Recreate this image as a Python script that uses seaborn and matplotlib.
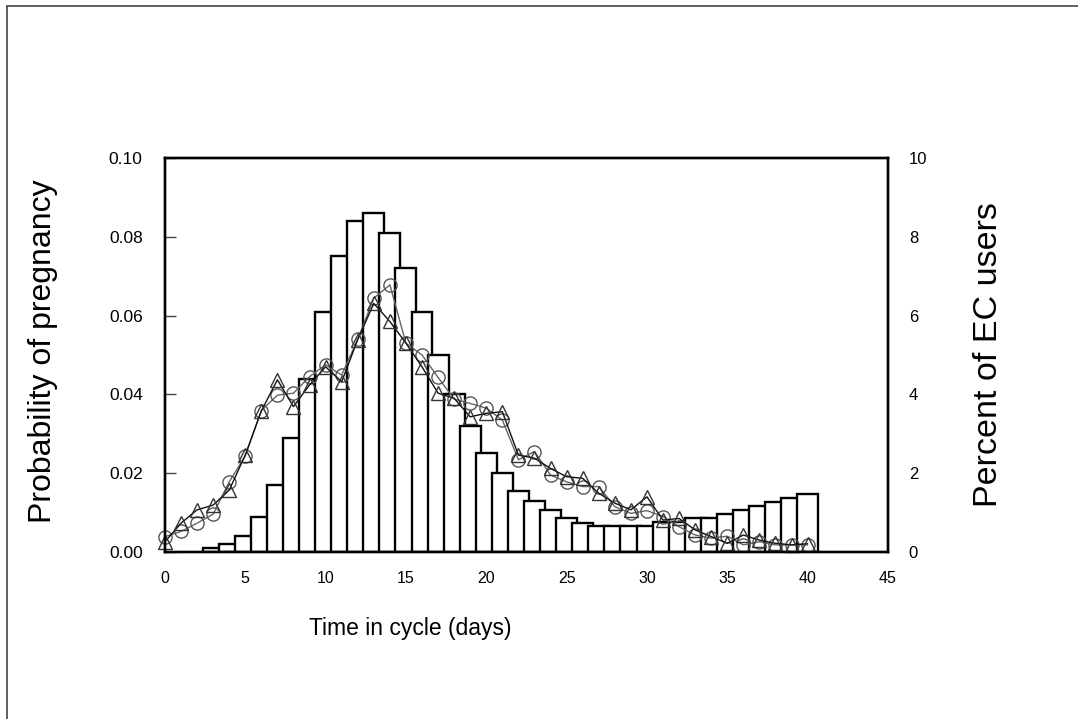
import numpy as np
import pandas as pd
import matplotlib
matplotlib.use("Agg")
import matplotlib.pyplot as plt
from matplotlib.lines import Line2D
from matplotlib.ticker import FormatStrFormatter
import seaborn as sns

# percent of EC users by cycle day (bars, right axis)
bar_days = list(range(3, 41))
bar_pct = [0.1, 0.2, 0.4, 0.9, 1.7, 2.9, 4.4, 6.1, 7.5, 8.4, 8.6, 8.1, 7.2, 6.1,
           5.0, 4.0, 3.2, 2.5, 2.0, 1.55, 1.3, 1.07, 0.85, 0.74, 0.65, 0.65, 0.65,
           0.65, 0.75, 0.75, 0.85, 0.85, 0.96, 1.07, 1.17, 1.27, 1.36, 1.46]

# probability of pregnancy by cycle day (two series, left axis)
line_days = list(range(0, 41))
prob_circles = [0.0039, 0.0052, 0.0073, 0.0096, 0.0178, 0.0244, 0.0359, 0.0398,
                0.0403, 0.0445, 0.0475, 0.0449, 0.054, 0.0644, 0.0678, 0.053,
                0.050, 0.0443, 0.0388, 0.0377, 0.0365, 0.0335, 0.0234, 0.0255,
                0.0195, 0.0178, 0.0166, 0.0166, 0.0115, 0.0098, 0.0105, 0.009,
                0.0064, 0.0043, 0.0035, 0.0040, 0.0018, 0.0026, 0.0018, 0.0018,
                0.0018]
prob_triangles = [0.0026, 0.0073, 0.0107, 0.0119, 0.0157, 0.0246, 0.0358, 0.0437,
                  0.0369, 0.0424, 0.047, 0.0432, 0.0539, 0.0631, 0.0585, 0.053,
                  0.047, 0.0403, 0.039, 0.0343, 0.0352, 0.0356, 0.0246, 0.0238,
                  0.0212, 0.0191, 0.0187, 0.0149, 0.0124, 0.0107, 0.014, 0.0081,
                  0.0085, 0.0056, 0.0039, 0.0022, 0.0043, 0.003, 0.0022, 0.0018,
                  0.0021]

x_ticks = [0, 5, 10, 15, 20, 25, 30, 35, 40, 45]
left_ticks = [0.0, 0.02, 0.04, 0.06, 0.08, 0.10]
right_ticks = [0, 2, 4, 6, 8, 10]

sns.set_style("white")
plt.rcParams['font.family'] = ['Liberation Sans', 'DejaVu Sans']
plt.rcParams['text.color'] = 'black'
plt.rcParams['axes.labelcolor'] = 'black'
plt.rcParams['xtick.color'] = 'black'
plt.rcParams['ytick.color'] = 'black'

fig = plt.figure(figsize=(10.78, 7.19), dpi=100)
ax_bar = fig.add_axes([0.153, 0.2323, 0.6707, 0.548])

bars = pd.DataFrame({'day': bar_days, 'pct': bar_pct})
sns.barplot(data=bars, x='day', y='pct', native_scale=True, width=1.3,
            color='white', saturation=1, edgecolor='black', linewidth=1.7,
            errorbar=None, ax=ax_bar)

ax_line = ax_bar.twinx()
sns.lineplot(x=line_days, y=prob_circles, ax=ax_line, color='#666666', lw=1,
             marker='o', markersize=9.5, markerfacecolor='none',
             markeredgecolor='#555555', markeredgewidth=1, clip_on=False)
sns.lineplot(x=line_days, y=prob_triangles, ax=ax_line, color='#111111', lw=1,
             marker='^', markersize=10.5, markerfacecolor='none',
             markeredgecolor='#333333', markeredgewidth=1, clip_on=False)

ax_bar.set_xlim(0, 45)
ax_bar.set_ylim(0, 10)
ax_line.set_ylim(0, 0.10)
ax_bar.set_xticks(x_ticks)
ax_bar.set_xticklabels([str(t) for t in x_ticks])
ax_bar.set_yticks(right_ticks)
ax_line.set_yticks(left_ticks)
ax_line.yaxis.set_major_formatter(FormatStrFormatter('%.2f'))

# bars axis lives on the right, probability axis on the left
ax_bar.yaxis.tick_right()
ax_bar.yaxis.set_label_position('right')
ax_line.yaxis.tick_left()
ax_line.yaxis.set_label_position('left')

ax_bar.tick_params(axis='x', length=0, pad=14, labelsize=11.5, labelcolor='black')
ax_bar.tick_params(axis='y', length=0, pad=15, labelsize=12, labelcolor='black')
ax_line.tick_params(axis='y', direction='in', length=8, width=1, pad=16,
                    labelsize=12.5, color='#444444', labelcolor='black')

for ax in (ax_bar, ax_line):
    for s in ax.spines.values():
        s.set_visible(True)
        s.set_color('black')
        s.set_linewidth(1.7)

ax_bar.set_xlabel('Time in cycle (days)', fontsize=16.5)
ax_bar.xaxis.set_label_coords(0.339, -0.165)
ax_line.set_ylabel('Probability of pregnancy', fontsize=23)
ax_line.yaxis.set_label_coords(-0.148, 0.51)
ax_bar.set_ylabel('Percent of EC users', fontsize=24.5)
ax_bar.yaxis.set_label_coords(1.1175, 0.50)

# thin frame lines along the top and left of the picture
fig.add_artist(Line2D([7 / 1078, 7 / 1078], [0, 1 - 6 / 719], color='#444444', lw=1.2))
fig.add_artist(Line2D([7 / 1078, 1], [1 - 6 / 719, 1 - 6 / 719], color='#444444', lw=1.2))

fig.savefig('out.png', dpi=100, facecolor='white')
